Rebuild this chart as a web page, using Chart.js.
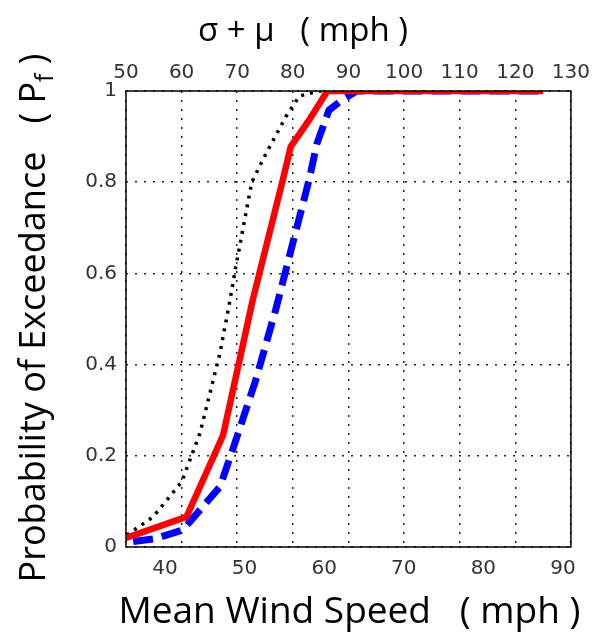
<!DOCTYPE html>
<html lang="en">
<head>
<meta charset="UTF-8" />
<title>Probability of Exceedance</title>
<script src="https://cdn.jsdelivr.net/npm/chart.js"></script>
<style>
  body { margin: 0; background: #fff; }
  #wrap { width: 596px; height: 632px; }
</style>
</head>
<body>
<div id="wrap"><canvas id="pfChart"></canvas></div>
<script>
  // mean wind speed (mph) vs probability of exceedance, three curves
  const speedRed   = [35.1, 42.7, 47.3, 51.0, 54.8, 55.8, 58.1, 60.4, 87.5];
  const pfRed      = [0.02, 0.066, 0.245, 0.54, 0.805, 0.878, 0.936, 1, 1];

  const speedBlue  = [36.0, 38.7, 42.2, 43.3, 46.9, 48.5, 51.4, 53.9, 58.1, 59.1, 60.6, 62.2, 64.1, 87.5];
  const pfBlue     = [0.012, 0.018, 0.037, 0.059, 0.132, 0.213, 0.366, 0.52, 0.805, 0.885, 0.958, 0.98, 1, 1];

  const speedBlack = [35.2, 38.5, 42.1, 44.4, 46.9, 48.1, 48.9, 50.9, 52.7, 55.2, 56.9, 59.4, 87.5];
  const pfBlack    = [0.026, 0.066, 0.143, 0.25, 0.425, 0.535, 0.615, 0.8, 0.863, 0.944, 0.989, 1, 1];

  const pfTickLabels = ['0', '0.2', '0.4', '0.6', '0.8', '1'];

  const toPoints = (xs, ys) => xs.map((x, i) => ({ x, y: ys[i] }));

  const tickFont = { family: 'DejaVu Sans', size: 20 };

  // frame around the plot plus the three axis titles
  const framePlugin = {
    id: 'frameAndTitles',
    afterDraw(chart) {
      const { ctx, chartArea: a } = chart;
      ctx.save();
      ctx.setLineDash([]);
      ctx.lineWidth = 1.5;
      ctx.strokeStyle = '#000';
      ctx.strokeRect(a.left, a.top, a.right - a.left, a.bottom - a.top);

      ctx.fillStyle = '#000';
      ctx.textBaseline = 'alphabetic';
      ctx.textAlign = 'center';
      ctx.font = '37px "Open Sans"';
      ctx.fillText('Mean Wind Speed   ( mph )', (a.left + a.right) / 2 + 1, 623);
      ctx.font = '33px "Open Sans"';
      ctx.fillText('\u03c3 + \u03bc   ( mph )', 303, 41);

      // y title, rotated, with subscript f
      const yFont = '36px "Open Sans"';
      const subFont = '25px "Open Sans"';
      ctx.translate(45, 318);
      ctx.rotate(-Math.PI / 2);
      ctx.textAlign = 'left';
      const head = 'Probability of Exceedance   ( P';
      const tail = ' )';
      ctx.font = yFont;
      const wHead = ctx.measureText(head).width;
      const wTail = ctx.measureText(tail).width;
      ctx.font = subFont;
      const wSub = ctx.measureText('f').width;
      let x = -(wHead + wSub + wTail) / 2;
      ctx.font = yFont;
      ctx.fillText(head, x, 0);
      x += wHead;
      ctx.font = subFont;
      ctx.fillText('f', x, 8);
      x += wSub;
      ctx.font = yFont;
      ctx.fillText(tail, x, 0);
      ctx.restore();
    }
  };

  new Chart(document.getElementById('pfChart'), {
    type: 'scatter',
    data: {
      datasets: [
        {
          label: 'red',
          data: toPoints(speedRed, pfRed),
          showLine: true,
          borderColor: '#ff0000',
          borderWidth: 6.5,
          pointRadius: 0,
          order: 0
        },
        {
          label: 'blue',
          data: toPoints(speedBlue, pfBlue),
          showLine: true,
          borderColor: '#0000ff',
          borderWidth: 7,
          borderDash: [20, 9],
          pointRadius: 0,
          order: 1
        },
        {
          label: 'black',
          data: toPoints(speedBlack, pfBlack),
          showLine: true,
          borderColor: '#000',
          borderWidth: 3.5,
          borderDash: [3, 6],
          pointRadius: 0,
          order: 2
        }
      ]
    },
    options: {
      responsive: true,
      maintainAspectRatio: false,
      animation: false,
      layout: { padding: { left: 0, right: 23, top: 0, bottom: 0 } },
      plugins: {
        legend: { display: false },
        tooltip: { enabled: false }
      },
      scales: {
        x: {
          type: 'linear',
          position: 'bottom',
          min: 35.1,
          max: 91,
          ticks: { stepSize: 10, includeBounds: false, font: tickFont, color: '#333', padding: 10, maxRotation: 0 },
          grid: { display: false, drawTicks: false },
          border: { display: false },
          afterFit: s => { s.height = 85; }
        },
        x2: {
          type: 'linear',
          position: 'top',
          min: 50,
          max: 130,
          ticks: { stepSize: 10, font: tickFont, color: '#333', padding: 6, maxRotation: 0, autoSkip: false },
          grid: { color: '#222', lineWidth: 1.5, drawTicks: false },
          border: { display: false, dash: [2, 7] },
          afterFit: s => { s.height = 91; }
        },
        y: {
          min: 0,
          max: 1,
          ticks: {
            stepSize: 0.2,
            font: tickFont,
            color: '#333',
            padding: 9,
            callback: (v, i) => pfTickLabels[i]
          },
          grid: { color: '#222', lineWidth: 1.5, drawTicks: false },
          border: { display: false, dash: [2, 7] },
          afterFit: s => { s.width = 126; }
        }
      }
    },
    plugins: [framePlugin]
  });
</script>
</body>
</html>
